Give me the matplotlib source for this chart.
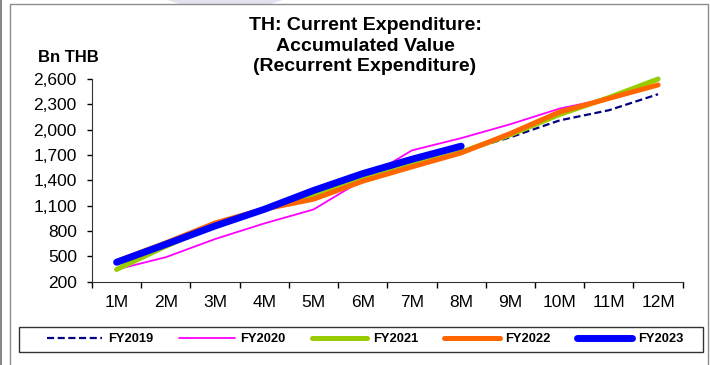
import matplotlib

matplotlib.use("Agg")
from matplotlib import pyplot as plt
from matplotlib.lines import Line2D
from matplotlib.patches import Polygon, Rectangle

plt.rcParams["font.family"] = ["Liberation Sans", "DejaVu Sans"]

months = ["1M", "2M", "3M", "4M", "5M", "6M", "7M", "8M", "9M", "10M", "11M", "12M"]

fy2019 = [420, 630, 850, 1060, 1260, 1450, 1600, 1740, 1910, 2110, 2230, 2420]
fy2020 = [345, 490, 705, 890, 1055, 1405, 1755, 1900, 2065, 2250, 2370, 2540]
fy2021 = [345, 620, 870, 1060, 1210, 1410, 1580, 1735, 1940, 2180, 2380, 2600]
fy2022 = [440, 660, 895, 1060, 1177, 1390, 1560, 1725, 1955, 2210, 2370, 2530]
fy2023 = [430, 643, 860, 1057, 1280, 1480, 1650, 1805]

y_ticks = [200, 500, 800, 1100, 1400, 1700, 2000, 2300, 2600]

W, H = 710, 365
fig = plt.figure(figsize=(W / 100, H / 100), dpi=100)


def fx(px):
    return px / W


def fy(py):
    return 1 - py / H


ax = fig.add_axes([fx(92), fy(281.7), fx(682.7 - 92), (281.7 - 79) / H])

x = list(range(len(months)))
series = [
    ("FY2019", fy2019, dict(color="#000080", lw=1.6, dashes=(3.2, 1.6))),
    ("FY2020", fy2020, dict(color="#FF00FF", lw=1.3)),
    ("FY2021", fy2021, dict(color="#99CC00", lw=3.6)),
    ("FY2022", fy2022, dict(color="#FF6600", lw=3.6)),
    ("FY2023", fy2023, dict(color="#0000FF", lw=5.0)),
]
handles = []
for name, vals, style in series:
    ax.plot(x[: len(vals)], vals, solid_capstyle="round", clip_on=False, **style)
    handles.append(Line2D([], [], solid_capstyle="round", label=name, **style))

ax.set_xlim(-0.5, len(months) - 0.5)
ax.set_ylim(200, 2600)
ax.set_yticks(y_ticks)
ax.set_yticklabels([f"{v:,}" for v in y_ticks])
ax.set_xticks([i - 0.5 for i in range(len(months) + 1)])
ax.set_xticklabels([])
ax.set_xticks(x, minor=True)
ax.set_xticklabels(months, minor=True)
ax.tick_params(axis="y", length=3.4, width=1, pad=7.5, labelsize=12.5, colors="black")
ax.tick_params(axis="x", which="major", length=4, width=1)
ax.tick_params(axis="x", which="minor", length=0, pad=9.5, labelsize=12.5)
for side in ("top", "right"):
    ax.spines[side].set_visible(False)
for side in ("left", "bottom"):
    ax.spines[side].set_color("#333333")

# title and unit label
for text, py in [
    ("TH: Current Expenditure:", 30),
    ("Accumulated Value", 51),
    ("(Recurrent Expenditure)", 71),
]:
    fig.text(fx(365), fy(py), text, ha="center", va="baseline",
             fontsize=14, fontweight="bold")
fig.text(fx(68), fy(62.5), "Bn THB", ha="center", va="baseline",
         fontsize=12, fontweight="bold")

# outer frame and legend box
fig.patches.append(Polygon([(fx(167), fy(0)), (fx(283), fy(0)), (fx(270), fy(4)), (fx(180), fy(4))],
                           closed=True, transform=fig.transFigure,
                           facecolor="#e2e2ee", edgecolor="none"))
fig.add_artist(Line2D([fx(10), fx(10), fx(708), fx(708)],
                      [fy(365), fy(4), fy(4), fy(365)],
                      color="#8c8c8c", lw=1, transform=fig.transFigure))
fig.add_artist(Line2D([fx(1.5), fx(1.5)], [0, 1], color="#707070", lw=1.2,
                      transform=fig.transFigure))
fig.patches.append(Rectangle((fx(19.3), fy(351.7)), fx(703.3 - 19.3), (351.7 - 326.7) / H,
                             transform=fig.transFigure, facecolor="none",
                             edgecolor="#333333", lw=1))

fig.legend(handles=handles, loc="center", bbox_to_anchor=(fx(365), fy(339)),
           ncol=5, frameon=False, handlelength=4.3, handletextpad=0.45,
           columnspacing=2.0, borderpad=0, prop=dict(size=9.3, weight="bold"))

fig.savefig("out.png", dpi=100)
